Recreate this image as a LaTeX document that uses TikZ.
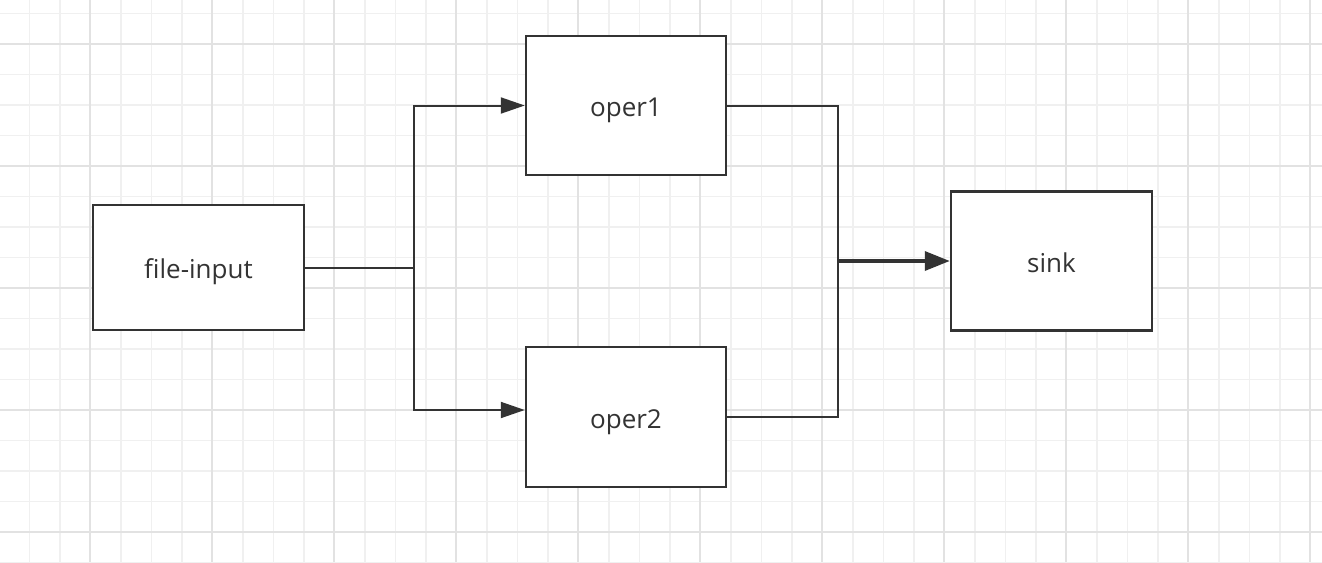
\documentclass[tikz,border=0pt]{standalone}
\usepackage{fontspec}
\setmainfont{Open Sans}
\usetikzlibrary{arrows.meta}
\definecolor{ink}{HTML}{333333}
\definecolor{gminor}{HTML}{F0F0F0}
\definecolor{gmajor}{HTML}{E2E2E2}
\tikzset{
  box/.style={draw=ink, line width=2.5pt, fill=white, inner sep=0pt, font=\fontsize{26}{30}\selectfont, text=ink, text height=22pt, text depth=0pt},
  conn/.style={draw=ink, line width=2pt},
  arr/.style={conn, -{Triangle[length=24pt,width=16pt]}},
  thickarr/.style={draw=ink, line width=3.5pt, -{Triangle[length=25pt,width=19pt]}},
}
\begin{document}
\begin{tikzpicture}[x=1pt,y=-1pt]
\useasboundingbox (0,0) rectangle (1322,562);
\fill[white] (0,0) rectangle (1322,562);
% grid minor
\foreach \i in {0,...,43} {
  \draw[gminor, line width=1.5pt] ({-1+30.5*\i},0) -- ({-1+30.5*\i},562);
}
\foreach \i in {0,...,19} {
  \draw[gminor, line width=1.5pt] (0,{13.5+30.5*\i}) -- (1322,{13.5+30.5*\i});
}
% grid major
\foreach \i in {0,...,10} {
  \draw[gmajor, line width=1.5pt] ({90+122*\i},0) -- ({90+122*\i},562);
}
\foreach \i in {0,...,4} {
  \draw[gmajor, line width=1.5pt] (0,{44+122*\i}) -- (1322,{44+122*\i});
}
% nodes
\node[box, minimum width=211pt, minimum height=125pt] (fi) at (198.5,267.5) {file-input};
\node[box, minimum width=200pt, minimum height=139pt] (o1) at (626,105.5) {oper1};
\node[box, minimum width=200pt, minimum height=140pt] (o2) at (626,417) {oper2};
\node[box, minimum width=201pt, minimum height=139pt] (sk) at (1051.5,261) {sink};
\coordinate (j1) at (414,267.5);
\coordinate (j2) at (838,261);
% connectors
\draw[conn] (fi.east) -- (j1);
\draw[arr] (j1) |- (o1.west);
\draw[arr] (j1) |- ([yshift=7pt]o2.west);
\draw[conn] (o1.east) -| (j2);
\draw[conn] (o2.east) -| (j2);
\draw[thickarr] (j2) -- (sk.west);
\end{tikzpicture}
\end{document}
